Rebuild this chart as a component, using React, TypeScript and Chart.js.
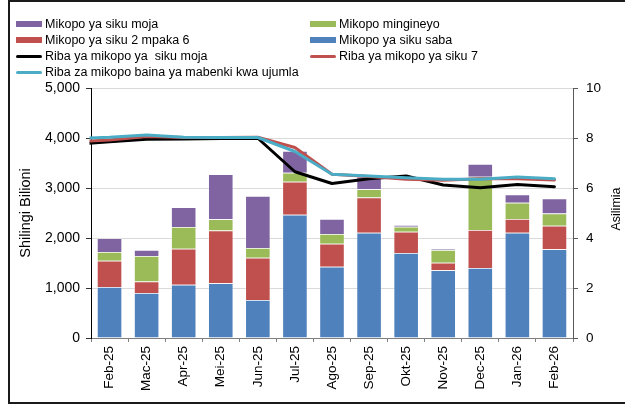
import React, { useEffect, useRef } from 'react';
import { Chart, registerables } from 'chart.js';

Chart.register(...registerables);

const FONT = "'Liberation Sans', Arial, Helvetica, sans-serif";

const categories = ['Feb-25', 'Mac-25', 'Apr-25', 'Mei-25', 'Jun-25', 'Jul-25', 'Ago-25', 'Sep-25', 'Okt-25', 'Nov-25', 'Dec-25', 'Jan-26', 'Feb-26'];

// Bars (Shilingi Bilioni)
const loans7Day = [1020, 900, 1065, 1095, 760, 2465, 1425, 2105, 1700, 1355, 1400, 2105, 1775];
const loans2to6Day = [525, 230, 720, 1055, 845, 660, 460, 705, 425, 150, 760, 275, 470];
const loansOther = [175, 510, 435, 225, 195, 180, 195, 165, 100, 255, 1065, 325, 245];
const loansOvernight = [275, 120, 395, 900, 1040, 435, 300, 250, 35, 25, 255, 165, 300];

// Rates (Asilimia); the previous month (Jan-25) value lets the line run to the axis edge
const overnightRatePrev = 7.75;
const overnightRate = [7.85, 7.95, 7.96, 7.98, 7.99, 6.65, 6.18, 6.37, 6.48, 6.12, 6.01, 6.14, 6.05];
const rate7DayPrev = 7.85;
const rate7Day = [7.92, 8.06, 8.02, 8.02, 8.03, 7.62, 6.55, 6.46, 6.35, 6.31, 6.37, 6.37, 6.32];
const interbankRatePrev = 7.98;
const interbankRate = [8.03, 8.12, 8.03, 8.02, 8.02, 7.46, 6.55, 6.48, 6.41, 6.35, 6.35, 6.44, 6.37];

const leftTicksMax = 5000;
const leftStep = 1000;
const rightTicksMax = 10;
const rightStep = 2;

const leftTitle = 'Shilingi Bilioni';
const rightTitle = 'Asilimia';

const COLORS = {
  purple: '#8064A2',
  red: '#C0504D',
  green: '#9BBB59',
  blue: '#4F81BD',
  black: '#000000',
  cyan: '#4BACC6',
};

const legendItems = [
  { label: 'Mikopo ya siku moja', color: COLORS.purple, kind: 'bar' },
  { label: 'Mikopo mingineyo', color: COLORS.green, kind: 'bar' },
  { label: 'Mikopo ya siku 2 mpaka 6', color: COLORS.red, kind: 'bar' },
  { label: 'Mikopo ya siku saba', color: COLORS.blue, kind: 'bar' },
  { label: 'Riba ya mikopo ya  siku moja', color: COLORS.black, kind: 'line' },
  { label: 'Riba ya mikopo ya siku 7', color: COLORS.red, kind: 'line' },
  { label: 'Riba za mikopo baina ya mabenki kwa ujumla', color: COLORS.cyan, kind: 'line' },
];

const toPoints = (prev: number, arr: number[]) => [{ x: -1, y: prev }, ...arr.map((y, i) => ({ x: i, y }))];

const setLineRange = (s: any) => { s.min = -0.5; s.max = categories.length - 0.5; };

const axisTitles = {
  id: 'axisTitles',
  afterDraw(chart: any) {
    const { ctx, chartArea } = chart;
    const cy = (chartArea.top + chartArea.bottom) / 2;
    ctx.save();
    ctx.fillStyle = '#000';
    ctx.textAlign = 'center';
    ctx.textBaseline = 'middle';
    ctx.font = `14.5px ${FONT}`;
    ctx.translate(26, cy);
    ctx.rotate(-Math.PI / 2);
    ctx.fillText(leftTitle, 0, 0);
    ctx.restore();
    ctx.save();
    ctx.fillStyle = '#000';
    ctx.textAlign = 'center';
    ctx.textBaseline = 'middle';
    ctx.font = `12.5px ${FONT}`;
    ctx.translate(617, cy - 4);
    ctx.rotate(-Math.PI / 2);
    ctx.fillText(rightTitle, 0, 0);
    ctx.restore();
  },
};

export default function App() {
  const ref = useRef<HTMLCanvasElement | null>(null);

  useEffect(() => {
    if (!ref.current) return;
    const barBorder = 'rgba(255,255,255,0.45)';
    const lineCommon = {
      type: 'line' as const,
      xAxisID: 'xl',
      yAxisID: 'y1',
      borderWidth: 3,
      pointRadius: 0,
      pointHoverRadius: 0,
      tension: 0,
      borderJoinStyle: 'round' as const,
      borderCapStyle: 'round' as const,
      fill: false,
    };
    const barCommon = {
      type: 'bar' as const,
      borderColor: barBorder,
      borderWidth: 0.8,
      order: 10,
      yAxisID: 'y',
      xAxisID: 'x',
      stack: 'loans',
      grouped: false,
      barPercentage: 0.68,
      categoryPercentage: 1,
    };
    const chart = new Chart(ref.current, {
      type: 'bar',
      data: {
        labels: categories,
        datasets: [
          { ...barCommon, label: 'Mikopo ya siku saba', data: loans7Day, backgroundColor: COLORS.blue } as any,
          { ...barCommon, label: 'Mikopo ya siku 2 mpaka 6', data: loans2to6Day, backgroundColor: COLORS.red } as any,
          { ...barCommon, label: 'Mikopo mingineyo', data: loansOther, backgroundColor: COLORS.green } as any,
          { ...barCommon, label: 'Mikopo ya siku moja', data: loansOvernight, backgroundColor: COLORS.purple } as any,
          { ...lineCommon, label: 'Riba ya mikopo ya  siku moja', data: toPoints(overnightRatePrev, overnightRate), borderColor: COLORS.black, backgroundColor: COLORS.black, order: 3 } as any,
          { ...lineCommon, label: 'Riba ya mikopo ya siku 7', data: toPoints(rate7DayPrev, rate7Day), borderColor: COLORS.red, backgroundColor: COLORS.red, order: 2 } as any,
          { ...lineCommon, label: 'Riba za mikopo baina ya mabenki kwa ujumla', data: toPoints(interbankRatePrev, interbankRate), borderColor: COLORS.cyan, backgroundColor: COLORS.cyan, order: 1 } as any,
        ],
      },
      options: {
        animation: false,
        responsive: false,
        maintainAspectRatio: false,
        events: [],
        layout: { padding: { top: 88, left: 0, right: 0, bottom: 0 } },
        plugins: { legend: { display: false }, tooltip: { enabled: false } },
        scales: {
          x: {
            type: 'category',
            stacked: true,
            offset: true,
            grid: { offset: true, drawOnChartArea: false, drawTicks: true, tickLength: 4, color: '#7f7f7f' },
            border: { color: '#7f7f7f', width: 1 },
            ticks: { autoSkip: false, maxRotation: 90, minRotation: 90, padding: 4, color: '#000', font: { family: FONT, size: 13.5 } },
            afterFit: (s: any) => { s.height = 67; },
          },
          xl: {
            type: 'linear',
            display: false,
            offset: false,
            bounds: 'data',
            grace: 0,
            grid: { offset: false },
            afterDataLimits: setLineRange,
            afterBuildTicks: setLineRange,
          },
          y: {
            type: 'linear',
            position: 'left',
            stacked: true,
            min: 0,
            max: leftTicksMax,
            grid: { color: '#d9d9d9', lineWidth: 1, tickColor: '#333', tickLength: 5 },
            border: { color: '#000', width: 1 },
            ticks: {
              stepSize: leftStep,
              padding: 6,
              color: '#000',
              font: { family: FONT, size: 14 },
              callback: (v: any) => Number(v).toLocaleString('en-US'),
            },
            afterFit: (s: any) => { s.width = 91; },
          },
          y1: {
            type: 'linear',
            position: 'right',
            min: 0,
            max: rightTicksMax,
            grid: { drawOnChartArea: false, tickColor: '#595959', tickLength: 5 },
            border: { color: '#595959', width: 1 },
            ticks: { stepSize: rightStep, padding: 8, color: '#000', font: { family: FONT, size: 13.5 } },
            afterFit: (s: any) => { s.width = 52; },
          },
        },
      } as any,
      plugins: [axisTitles],
    });
    return () => chart.destroy();
  }, []);

  const col1X = 16;
  const col2X = 310;
  const rowY = [24, 40, 56, 72];

  return (
    <div style={{ position: 'absolute', left: 0, top: 0, width: 625, height: 405, overflow: 'hidden', background: '#fff' }}>
      <canvas ref={ref} width={625} height={405} style={{ position: 'absolute', left: 0, top: 0, width: 625, height: 405, display: 'block' }} />
      <div style={{ position: 'absolute', left: 8, top: 0, width: 617, height: 404, boxSizing: 'border-box', borderTop: '2px solid #1a1a1a', borderLeft: '2px solid #1a1a1a', borderBottom: '2px solid #1a1a1a', pointerEvents: 'none' }} />
      {legendItems.map((it, i) => {
        const x = i % 2 === 0 ? col1X : col2X;
        const y = rowY[Math.floor(i / 2)];
        return (
          <div key={i} style={{ position: 'absolute', left: x, top: y - 9, height: 18, display: 'flex', alignItems: 'center', whiteSpace: 'pre', fontFamily: FONT, fontSize: 12.5, color: '#000' }}>
            <span style={{ display: 'inline-block', width: 26, height: it.kind === 'bar' ? 6 : 3, background: it.color, borderRadius: it.kind === 'bar' ? 0 : 2, marginRight: 3 }} />
            <span>{it.label}</span>
          </div>
        );
      })}
    </div>
  );
}
